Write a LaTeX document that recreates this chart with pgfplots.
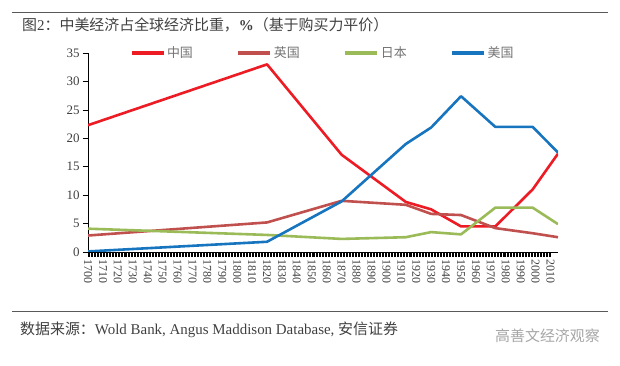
\documentclass[border=0pt]{standalone}
\usepackage{fontspec}
\setmainfont{Liberation Serif}
\newfontfamily\cjk{Noto Sans CJK SC}
\usepackage{pgfplots}
\usepackage{pgfplotstable}
\pgfplotsset{compat=1.18}
\definecolor{cCN}{RGB}{237,28,36}
\definecolor{cUK}{RGB}{192,80,77}
\definecolor{cJP}{RGB}{155,187,89}
\definecolor{cUS}{RGB}{23,116,190}
\definecolor{txt}{RGB}{64,64,64}
\pgfplotstableread{
year china uk japan us
1700 22.3 2.9 4.1 0.1
1820 33.0 5.2 3.0 1.8
1870 17.1 9.0 2.3 8.9
1913 8.8 8.3 2.6 19.0
1930 7.5 6.7 3.5 21.9
1950 4.5 6.5 3.1 27.4
1973 4.5 4.2 7.8 22.0
1998 11.0 3.3 7.8 22.0
2015 17.3 2.6 4.9 17.5
}\datatable
\begin{document}
\begin{tikzpicture}
\path[use as bounding box] (0,0) rectangle (620bp,366bp);
\draw[gray!70!black, line width=0.8bp] (12bp,354bp) -- (608bp,354bp);
\draw[gray!70!black, line width=0.8bp] (12bp,55bp) -- (608bp,55bp);
\node[anchor=west, text=txt, font=\fontsize{15}{15}\selectfont, inner sep=0pt] at (22bp,341bp)
  {{\cjk 图}2{\cjk ：中美经济占全球经济比重，}\textbf{\%}{\cjk （基于购买力平价）}};
\node[anchor=west, text=txt, font=\fontsize{15}{15}\selectfont, inner sep=0pt] at (20bp,36bp)
  {{\cjk 数据来源：}Wold Bank, Angus Maddison Database, {\cjk 安信证券}};
\node[anchor=west, text=gray!70, font=\fontsize{15}{15}\selectfont\cjk, inner sep=0pt] at (495bp,30bp)
  {高善文经济观察};
\begin{axis}[
  at={(88bp,114bp)}, anchor=south west,
  scale only axis, width=470bp, height=199bp,
  xmin=1700, xmax=2015, ymin=0, ymax=35,
  axis x line*=bottom, axis y line*=left,
  axis line style={black, line width=0.9bp},
  xtick={1700,1710,...,2010}, minor x tick num=9,
  ytick={0,5,...,35},
  tick align=outside, major tick length=5bp, minor tick length=5bp,
  tick style={black, line width=0.6bp},
  /pgf/number format/assume math mode=true,
  /pgf/number format/set thousands separator={},
  xticklabel style={rotate=-90, anchor=west, font=\fontsize{12}{12}\selectfont, text=txt, inner sep=2pt},
  yticklabel style={font=\fontsize{13}{13}\selectfont, text=txt},
  legend columns=4,
  legend style={at={(axis description cs:0.089,1)}, anchor=west, draw=none, fill=none,
    inner sep=0pt, font=\fontsize{13}{13}\selectfont\cjk, text=gray!90!black,
    /tikz/every even column/.append style={column sep=42bp}},
  legend image code/.code={\draw[#1, line width=3bp] (0bp,0bp) -- (32bp,0bp);},
  every axis plot/.append style={line width=2.6bp, line join=round, mark=none},
]
\addplot[cCN] table[x=year, y=china] {\datatable};
\addlegendentry{中国}
\addplot[cUK] table[x=year, y=uk] {\datatable};
\addlegendentry{英国}
\addplot[cJP] table[x=year, y=japan] {\datatable};
\addlegendentry{日本}
\addplot[cUS] table[x=year, y=us] {\datatable};
\addlegendentry{美国}
\end{axis}
\end{tikzpicture}
\end{document}
